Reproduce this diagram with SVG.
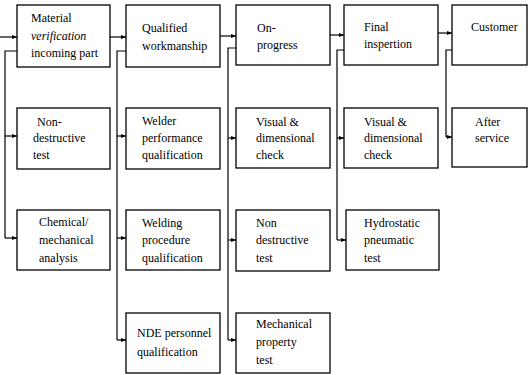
<svg xmlns="http://www.w3.org/2000/svg" width="529" height="375" viewBox="0 0 529 375">
<style>
.box{fill:#fff;stroke:#000;stroke-width:1.3}
.t{font-family:"Liberation Serif","Times New Roman",serif;font-size:12px;fill:#000}
.it{font-style:italic}
.c{fill:none;stroke:#000;stroke-width:1.2}
.a{fill:none;stroke:#000;stroke-width:1.2;marker-end:url(#ah)}
</style>
<defs>
<marker id="ah" markerUnits="userSpaceOnUse" markerWidth="6" markerHeight="4" refX="5" refY="2" orient="auto">
<path d="M0,0 L5,2 L0,4 z" fill="#000"/>
</marker>
</defs>
<rect width="529" height="375" fill="#fff"/>
<g id="connectors">
<path class="a" d="M0,37 H17"/>
<path class="a" d="M110,37 H126"/>
<path class="a" d="M220,36 H236"/>
<path class="a" d="M330,35 H344"/>
<path class="a" d="M438,33 H452"/>
<path class="c" d="M17,51 H5 V238"/>
<path class="a" d="M5,136 H17"/>
<path class="a" d="M5,238 H17"/>
<path class="c" d="M126,51 H117 V340"/>
<path class="a" d="M117,136 H126"/>
<path class="a" d="M117,238 H126"/>
<path class="a" d="M117,340 H126"/>
<path class="c" d="M236,48 H228 V340"/>
<path class="a" d="M228,138 H236"/>
<path class="a" d="M228,240 H236"/>
<path class="a" d="M228,340 H236"/>
<path class="c" d="M344,50 H337 V240"/>
<path class="a" d="M337,138 H344"/>
<path class="a" d="M337,240 H346"/>
<path class="c" d="M452,50 H446 V137"/>
<path class="a" d="M446,137 H452"/>
</g>
<g id="material"><rect class="box" x="17" y="5" width="93" height="62"/>
<text class="t" x="31" y="22">Material</text><text class="t it" x="31" y="40">verification</text><text class="t" x="31" y="57">incoming part</text></g>
<g id="qualified"><rect class="box" x="126" y="5" width="94" height="62"/>
<text class="t" x="142" y="32">Qualified</text><text class="t" x="142" y="50">workmanship</text></g>
<g id="onprogress"><rect class="box" x="236" y="5" width="94" height="60"/>
<text class="t" x="257" y="32">On-</text><text class="t" x="257" y="49">progress</text></g>
<g id="final"><rect class="box" x="344" y="5" width="94" height="60"/>
<text class="t" x="364" y="31">Final</text><text class="t" x="364" y="48">inspertion</text></g>
<g id="customer"><rect class="box" x="452" y="5" width="75" height="60"/>
<text class="t" x="471" y="31">Customer</text></g>
<g id="ndt1"><rect class="box" x="17" y="108" width="93" height="61"/>
<text class="t" x="37" y="126">Non-</text><text class="t" x="33" y="142">destructive</text><text class="t" x="33" y="159">test</text></g>
<g id="welder"><rect class="box" x="126" y="108" width="94" height="61"/>
<text class="t" x="142" y="125">Welder</text><text class="t" x="142" y="142">performance</text><text class="t" x="142" y="159">qualification</text></g>
<g id="visual1"><rect class="box" x="236" y="108" width="94" height="60"/>
<text class="t" x="256" y="126">Visual &amp;</text><text class="t" x="256" y="142">dimensional</text><text class="t" x="256" y="159">check</text></g>
<g id="visual2"><rect class="box" x="344" y="108" width="94" height="60"/>
<text class="t" x="364" y="126">Visual &amp;</text><text class="t" x="364" y="142">dimensional</text><text class="t" x="364" y="159">check</text></g>
<g id="after"><rect class="box" x="452" y="108" width="75" height="59"/>
<text class="t" x="475" y="126">After</text><text class="t" x="475" y="142">service</text></g>
<g id="chemical"><rect class="box" x="17" y="210" width="93" height="60"/>
<text class="t" x="39" y="226">Chemical/</text><text class="t" x="39" y="244">mechanical</text><text class="t" x="39" y="262">analysis</text></g>
<g id="welding"><rect class="box" x="126" y="210" width="94" height="60"/>
<text class="t" x="142" y="227">Welding</text><text class="t" x="142" y="244">procedure</text><text class="t" x="142" y="262">qualification</text></g>
<g id="ndt2"><rect class="box" x="236" y="210" width="94" height="61"/>
<text class="t" x="256" y="227">Non</text><text class="t" x="256" y="244">destructive</text><text class="t" x="256" y="262">test</text></g>
<g id="hydro"><rect class="box" x="346" y="210" width="93" height="60"/>
<text class="t" x="364" y="227">Hydrostatic</text><text class="t" x="364" y="244">pneumatic</text><text class="t" x="364" y="262">test</text></g>
<g id="nde"><rect class="box" x="126" y="313" width="94" height="60"/>
<text class="t" x="137" y="337">NDE personnel</text><text class="t" x="137" y="356">qualification</text></g>
<g id="mechanical"><rect class="box" x="236" y="313" width="94" height="60"/>
<text class="t" x="256" y="328">Mechanical</text><text class="t" x="256" y="346">property</text><text class="t" x="256" y="364">test</text></g>
</svg>
